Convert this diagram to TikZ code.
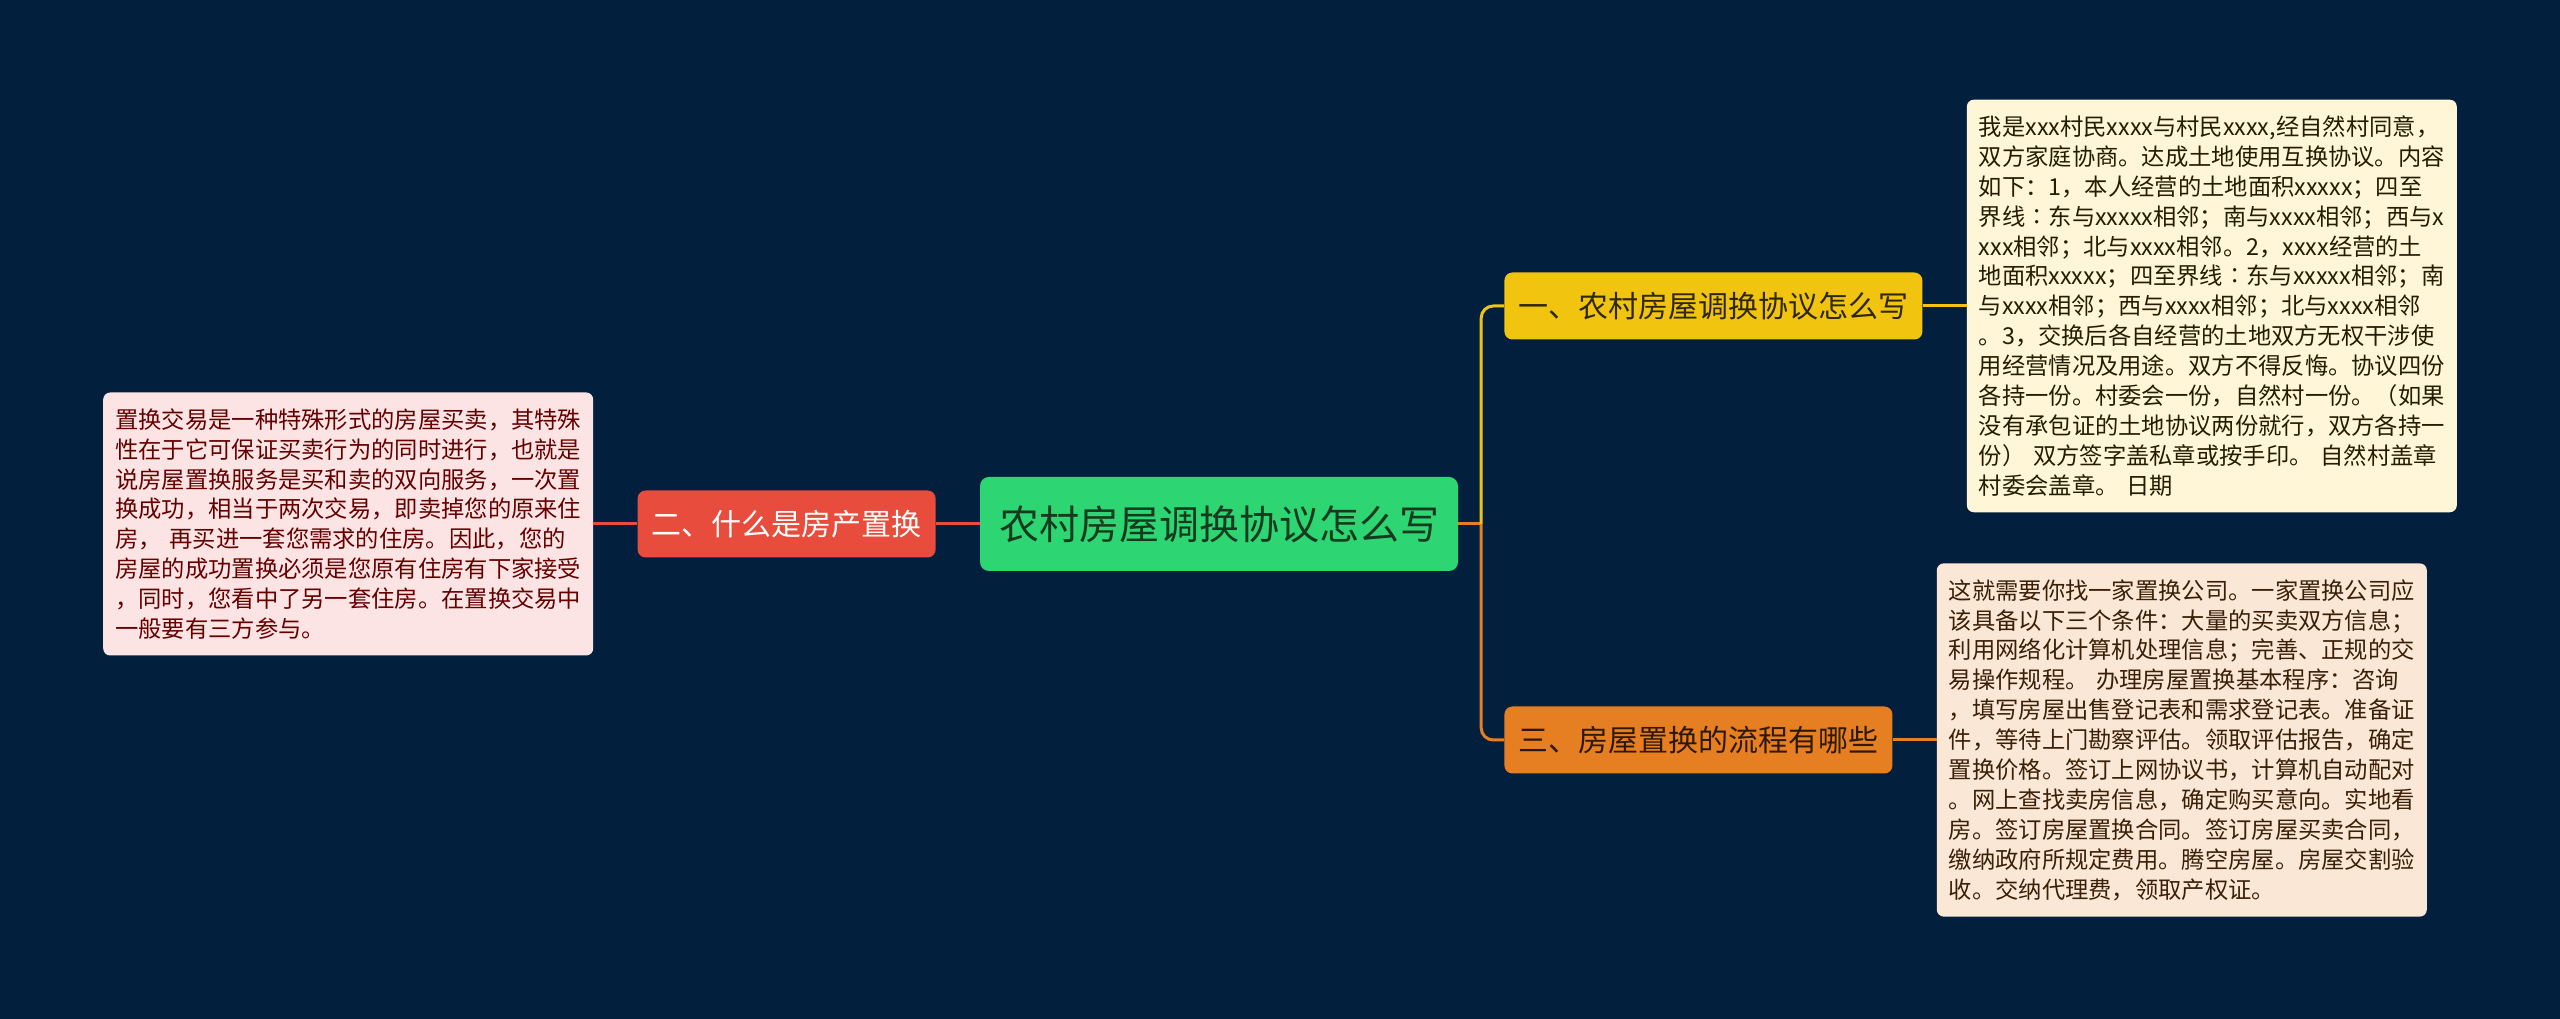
\documentclass[tikz,border=0pt]{standalone}
\usepackage{fontspec}
\setmainfont{Noto Sans CJK SC}
\usetikzlibrary{positioning}

\definecolor{bgnavy}{HTML}{02203E}
\definecolor{topicgreen}{HTML}{2ED573}
\definecolor{topicink}{HTML}{163A1E}
\definecolor{redbranch}{HTML}{E74C3C}
\definecolor{yellowbranch}{HTML}{F1C40F}
\definecolor{orangebranch}{HTML}{E67E22}
\definecolor{pinknote}{HTML}{FCE4E4}
\definecolor{creamnote}{HTML}{FEF6D6}
\definecolor{peachnote}{HTML}{FBE7D6}

\tikzstyle{topic} = [rectangle, rounded corners=9pt,
minimum height=94pt, inner xsep=19pt, fill=topicgreen, text=topicink,
font=\fontsize{40}{48}\selectfont]
\tikzstyle{branch} = [rectangle, rounded corners=8pt,
minimum height=67pt, inner xsep=14pt, font=\fontsize{30}{36}\selectfont]
\tikzstyle{note} = [rectangle, rounded corners=7pt, text width=466pt,
inner xsep=12pt, inner ysep=16pt, align=left,
font=\fontsize{23.3}{29.9}\selectfont]
\tikzstyle{link} = [line width=3pt]

\begin{document}
\begin{tikzpicture}
\fill[bgnavy] (0,0) rectangle (2560pt,1019pt);
\useasboundingbox (0,0) rectangle (2560pt,1019pt);

% Nodes
\node[topic] (topic) at (1219pt,495pt) {农村房屋调换协议怎么写};

\node[branch, fill=redbranch, text=white, left=44pt of topic] (whatis) {二、什么是房产置换};
\node[branch, fill=yellowbranch, text=black!80!yellowbranch, right=46pt of topic, yshift=218pt] (howto) {一、农村房屋调换协议怎么写};
\node[branch, fill=orangebranch, text=black!80!orangebranch, right=46pt of topic, yshift=-216pt] (process) {三、房屋置换的流程有哪些};

\node[note, fill=pinknote, text=red!40!black, left=44pt of whatis] (whatisnote) {置换交易是一种特殊形式的房屋买卖，其特殊\\
性在于它可保证买卖行为的同时进行，也就是\\
说房屋置换服务是买和卖的双向服务，一次置\\
换成功，相当于两次交易，即卖掉您的原来住\\
房， 再买进一套您需求的住房。因此，您的\\
房屋的成功置换必须是您原有住房有下家接受\\
，同时，您看中了另一套住房。在置换交易中\\
一般要有三方参与。};

\node[note, fill=creamnote, text=black!85!yellowbranch, right=44pt of howto] (howtonote) {我是xxx村民xxxx与村民xxxx,经自然村同意，\\
双方家庭协商。达成土地使用互换协议。内容\\
如下：1，本人经营的土地面积xxxxx；四至\\
界线∶东与xxxxx相邻；南与xxxx相邻；西与x\\
xxx相邻；北与xxxx相邻。2，xxxx经营的土\\
地面积xxxxx；四至界线∶东与xxxxx相邻；南\\
与xxxx相邻；西与xxxx相邻；北与xxxx相邻\\
。3，交换后各自经营的土地双方无权干涉使\\
用经营情况及用途。双方不得反悔。协议四份\\
各持一份。村委会一份，自然村一份。（如果\\
没有承包证的土地协议两份就行，双方各持一\\
份） 双方签字盖私章或按手印。 自然村盖章\\
村委会盖章。 日期};

\node[note, fill=peachnote, text=black!75!orangebranch, right=44pt of process] (processnote) {这就需要你找一家置换公司。一家置换公司应\\
该具备以下三个条件：大量的买卖双方信息；\\
利用网络化计算机处理信息；完善、正规的交\\
易操作规程。 办理房屋置换基本程序：咨询\\
，填写房屋出售登记表和需求登记表。准备证\\
件，等待上门勘察评估。领取评估报告，确定\\
置换价格。签订上网协议书，计算机自动配对\\
。网上查找卖房信息，确定购买意向。实地看\\
房。签订房屋置换合同。签订房屋买卖合同，\\
缴纳政府所规定费用。腾空房屋。房屋交割验\\
收。交纳代理费，领取产权证。};

\coordinate (fork) at ([xshift=23pt]topic.east);

% Lines
\draw[link, redbranch] (topic) -- (whatis);
\draw[link, redbranch] (whatis) -- (whatisnote);
\draw[link, orangebranch] (topic.east) -- (fork);
\draw[link, yellowbranch, rounded corners=12pt] (fork) |- (howto.west);
\draw[link, orangebranch, rounded corners=12pt] (fork) |- (process.west);
\draw[link, yellowbranch] (howto) -- (howtonote);
\draw[link, orangebranch] (process) -- (processnote);

\end{tikzpicture}
\end{document}
